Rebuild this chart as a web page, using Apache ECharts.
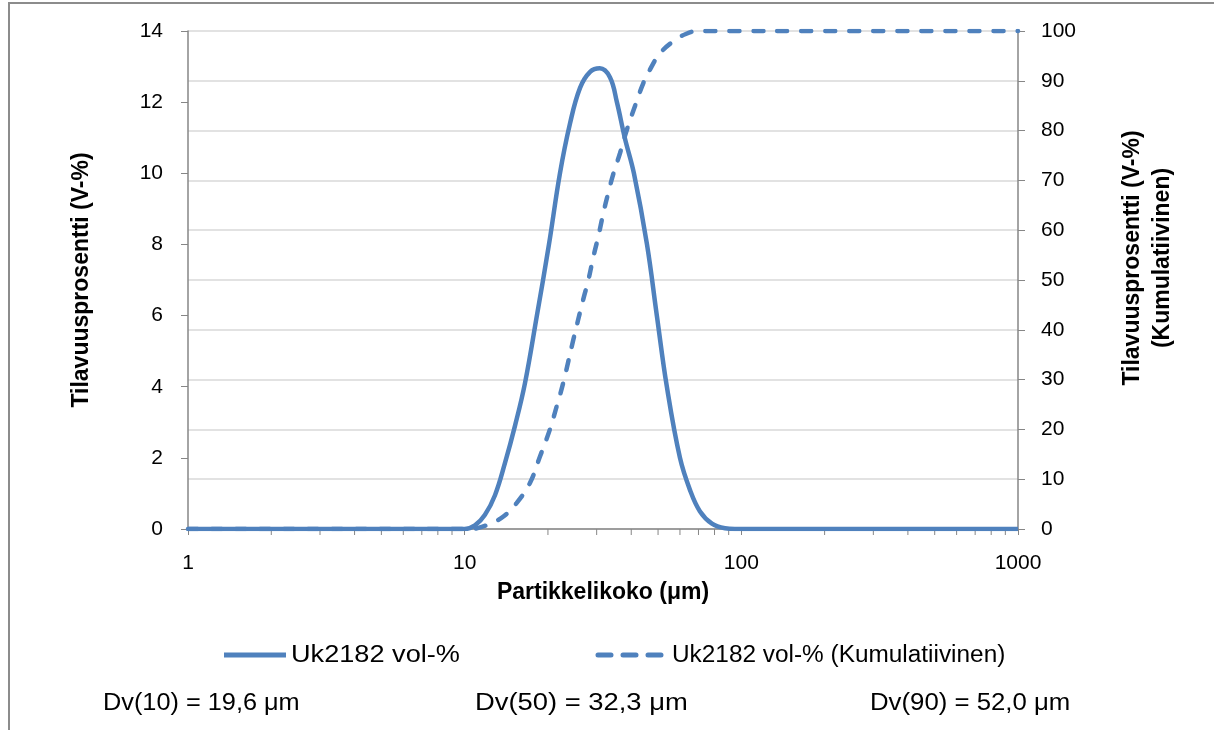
<!DOCTYPE html>
<html>
<head>
    <meta charset="UTF-8">
    <title>Partikkelikoko</title>
    <script src="https://cdn.jsdelivr.net/npm/echarts@6/dist/echarts.min.js"></script>
    <style>
        html, body { margin: 0; padding: 0; background: #fff; }
        #chart { width: 1214px; height: 730px; }
    </style>
</head>
<body>
<div id="chart"></div>
<script>
    // koko (µm) ja tilavuusprosentti, luettu kuvasta
    var volSize = [1, 5, 9, 10, 10.89, 11.84, 12.87, 13.98, 15.2, 16.52, 18.24, 20.17, 22.1, 24.03, 26.12, 28.4, 30.8, 33.5, 35.5, 37.9, 40.9, 45.6, 49.5, 53.8, 60, 65.2, 70.8, 78.3, 87.3, 94.8, 110, 200, 1000];
    var volPct  = [0, 0, 0, 0, 0.1, 0.4, 0.95, 1.85, 2.9, 4.1, 6.0, 8.0, 10.0, 11.4, 12.4, 12.85, 12.95, 12.7, 12.0, 11.0, 10.0, 8.0, 6.0, 4.0, 2.0, 1.1, 0.5, 0.15, 0.02, 0, 0, 0, 0];

    // kumulatiivinen
    var cumSize = [1, 5, 9.5, 10.5, 11.05, 12.3, 13.8, 15.4, 17.2, 18.7, 20.3, 21.5, 22.7, 24.7, 26.8, 28, 29.2, 30.4, 31.7, 33, 34.5, 36.4, 37.9, 39.6, 41.8, 44.2, 46.7, 50.8, 56.7, 63, 70, 80, 200, 1000];
    var cumPct  = [0, 0, 0, 0, 0.14, 1.0, 2.5, 5.2, 9.2, 14.5, 19.9, 24.6, 29.3, 38, 46, 50, 54.7, 58.7, 63.4, 67.4, 71.4, 75.4, 78.8, 82.1, 85.8, 89.5, 92.2, 95.5, 97.9, 99.4, 100, 100, 100, 100];

    var seriesNames = ['Uk2182 vol-%', 'Uk2182 vol-% (Kumulatiivinen)'];
    var dvLabels = ['Dv(10) = 19,6 μm', 'Dv(50) = 32,3 μm', 'Dv(90) = 52,0 μm'];
    var minorTicks = [2, 3, 4, 5, 6, 7, 8, 9, 20, 30, 40, 50, 60, 70, 80, 90, 200, 300, 400, 500, 600, 700, 800, 900];

    var blue = '#4F81BD';
    var axisGray = '#868686';
    var font = "'Liberation Sans', sans-serif";
    var dash = [10, 14];

    function pairs(xs, ys) {
        return xs.map(function (x, i) { return [x, ys[i]]; });
    }

    // selite piirretään käsin: viiva + teksti
    function legendItem(name, x1, x2, textX, dashed, sx) {
        return [
            {
                type: 'line', silent: true,
                shape: { x1: x1, y1: 655, x2: x2, y2: 655 },
                style: { stroke: blue, lineWidth: 5, lineDash: dashed ? [13, 12] : null, lineCap: dashed ? 'round' : 'butt' }
            },
            {
                type: 'text', silent: true, x: textX, y: 656, scaleX: sx,
                style: { text: name, font: "23px 'Liberation Sans'", fill: '#000', verticalAlign: 'middle' }
            }
        ];
    }

    var chart = echarts.init(document.getElementById('chart'));

    var graphics = [
        {
            type: 'polyline', silent: true,
            shape: { points: [[9, 730], [9, 3], [1214, 3]] },
            style: { stroke: '#8C8C8C', lineWidth: 2, fill: null }
        },
        {
            type: 'text', silent: true, x: 1148, y: 258, rotation: Math.PI / 2,
            style: {
                text: 'Tilavuusprosentti (V-%)\n(Kumulatiivinen)',
                font: "bold 23px 'Liberation Sans'", fill: '#000',
                align: 'center', verticalAlign: 'middle', lineHeight: 30
            }
        }
    ]
        .concat(legendItem(seriesNames[0], 224, 286, 291, false, 1.18))
        .concat(legendItem(seriesNames[1], 598, 663, 672, true, 1.06))
        .concat(dvLabels.map(function (t, i) {
            var xs = [103, 475, 870];
            var sx = [1.10, 1.19, 1.12];
            return {
                type: 'text', x: xs[i], y: 704, silent: true, scaleX: sx[i],
                style: { text: t, font: "23px 'Liberation Sans'", fill: '#000', verticalAlign: 'middle' }
            };
        }));

    var option = {
        animation: false,
        backgroundColor: '#fff',
        grid: { left: 188, right: 196, top: 31, bottom: 201 },
        xAxis: {
            type: 'log', logBase: 10, min: 1, max: 1000,
            name: 'Partikkelikoko (μm)', nameLocation: 'middle', nameGap: 52,
            nameTextStyle: { fontFamily: font, fontSize: 23, fontWeight: 'bold', color: '#000' },
            axisLine: { lineStyle: { color: axisGray, width: 1.5 } },
            axisTick: { length: 6, lineStyle: { color: axisGray } },
            axisLabel: {
                fontFamily: font, fontSize: 21, color: '#000', margin: 24,
                formatter: function (v) { return String(Math.round(v)); }
            },
            splitLine: { show: false }
        },
        yAxis: [
            {
                type: 'value', min: 0, max: 14, interval: 2,
                name: 'Tilavuusprosentti (V-%)', nameLocation: 'middle', nameGap: 95,
                nameTextStyle: { fontFamily: font, fontSize: 23, fontWeight: 'bold', color: '#000' },
                axisLine: { show: true, lineStyle: { color: axisGray, width: 1.5 } },
                axisTick: { show: true, length: 7, lineStyle: { color: axisGray } },
                axisLabel: { fontFamily: font, fontSize: 21, color: '#000', margin: 25 },
                splitLine: { show: false }
            },
            {
                type: 'value', min: 0, max: 100, interval: 10, position: 'right',
                axisLine: { show: true, lineStyle: { color: axisGray, width: 1.5 } },
                axisTick: { show: true, length: 7, lineStyle: { color: axisGray } },
                axisLabel: { fontFamily: font, fontSize: 21, color: '#000', margin: 23 },
                splitLine: { show: true, lineStyle: { color: '#D9D9D9', width: 1.5 } }
            }
        ],
        graphic: graphics,
        series: [
            {
                name: seriesNames[0], type: 'line', yAxisIndex: 0,
                data: pairs(volSize, volPct),
                smooth: 0.4, symbol: 'none', z: 3,
                lineStyle: { color: blue, width: 4.5 },
                itemStyle: { color: blue }
            },
            {
                name: seriesNames[1], type: 'line', yAxisIndex: 1,
                data: pairs(cumSize, cumPct),
                smooth: 0.4, symbol: 'none', z: 4,
                lineStyle: { color: blue, width: 4.5, type: dash, cap: 'round' },
                itemStyle: { color: blue }
            },
            {
                type: 'custom', yAxisIndex: 0, silent: true, z: 1,
                data: minorTicks.map(function (v) { return [v, 0]; }),
                renderItem: function (params, api) {
                    var p = api.coord([api.value(0), 0]);
                    return {
                        type: 'line',
                        shape: { x1: p[0], y1: p[1], x2: p[0], y2: p[1] + 6 },
                        style: { stroke: axisGray, lineWidth: 1 }
                    };
                }
            }
        ]
    };

    chart.setOption(option);
</script>
</body>
</html>
